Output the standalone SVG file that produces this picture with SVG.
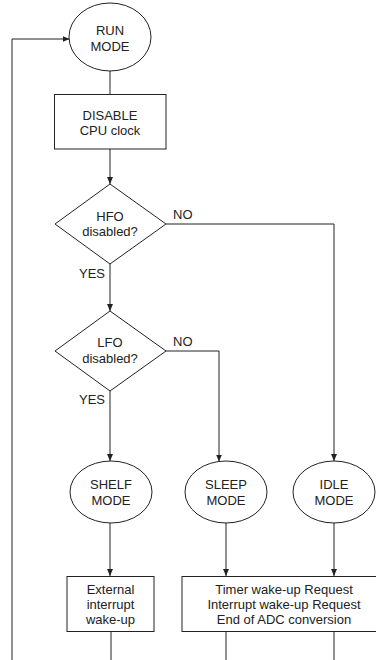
<svg xmlns="http://www.w3.org/2000/svg" width="376" height="660" viewBox="0 0 376 660">
<style>
.s{fill:#fff;stroke:#222;stroke-width:1}
.c{fill:none;stroke:#222;stroke-width:1}
text{font-family:"Liberation Sans",Arial,sans-serif;font-size:13px;fill:#222}
.m{text-anchor:middle}
</style>
<defs>
<marker id="ah" markerUnits="userSpaceOnUse" markerWidth="8" markerHeight="8" refX="7" refY="4" orient="auto">
<path d="M0,1 L7,4 L0,7 z" fill="#222"/>
</marker>
</defs>
<rect width="376" height="660" fill="#fff"/>
<g id="connectors">
<path class="c" d="M12,660 V39 H69.5" marker-end="url(#ah)"/>
<path class="c" d="M110,71 V94"/>
<path class="c" d="M110,149 V184" marker-end="url(#ah)"/>
<path class="c" d="M166,224 H334 V461" marker-end="url(#ah)"/>
<path class="c" d="M110,264 V311" marker-end="url(#ah)"/>
<path class="c" d="M166,351 H219 V461.5" marker-end="url(#ah)"/>
<path class="c" d="M110,391 V461" marker-end="url(#ah)"/>
<path class="c" d="M110,523 V576" marker-end="url(#ah)"/>
<path class="c" d="M226,523 V576" marker-end="url(#ah)"/>
<path class="c" d="M334,523 V576" marker-end="url(#ah)"/>
<path class="c" d="M111,632 V660"/>
<path class="c" d="M226,632 V660"/>
<path class="c" d="M334,632 V660"/>
<text x="173" y="219">NO</text>
<text x="79" y="278">YES</text>
<text x="173" y="346">NO</text>
<text x="79" y="404">YES</text>
</g>
<g id="run">
<ellipse class="s" cx="110" cy="37" rx="41" ry="34"/>
<text class="m" x="110" y="35">RUN</text>
<text class="m" x="110" y="51">MODE</text>
</g>
<g id="disable">
<rect class="s" x="54.5" y="94.5" width="111.5" height="54.5"/>
<text class="m" x="110" y="120">DISABLE</text>
<text class="m" x="110" y="135">CPU clock</text>
</g>
<g id="hfo">
<polygon class="s" points="110,184 166,224 110,264 55,224"/>
<text class="m" x="110" y="221">HFO</text>
<text class="m" x="110" y="236">disabled?</text>
</g>
<g id="lfo">
<polygon class="s" points="110,311 166,351 110,391 55,351"/>
<text class="m" x="110" y="347">LFO</text>
<text class="m" x="110" y="363">disabled?</text>
</g>
<g id="shelf">
<ellipse class="s" cx="111" cy="492" rx="41" ry="31"/>
<text class="m" x="111" y="489">SHELF</text>
<text class="m" x="111" y="505">MODE</text>
</g>
<g id="sleep">
<ellipse class="s" cx="226" cy="492" rx="41" ry="31"/>
<text class="m" x="226" y="489">SLEEP</text>
<text class="m" x="226" y="505">MODE</text>
</g>
<g id="idle">
<ellipse class="s" cx="334" cy="492" rx="41" ry="31"/>
<text class="m" x="334" y="489">IDLE</text>
<text class="m" x="334" y="505">MODE</text>
</g>
<g id="external">
<rect class="s" x="67" y="576.5" width="87" height="55"/>
<text class="m" x="110.5" y="594">External</text>
<text class="m" x="110.5" y="609">interrupt</text>
<text class="m" x="110.5" y="624">wake-up</text>
</g>
<g id="wakeup">
<rect class="s" x="182" y="576.5" width="200" height="55"/>
<text class="m" x="284" y="594">Timer wake-up Request</text>
<text class="m" x="284" y="609">Interrupt wake-up Request</text>
<text class="m" x="284" y="624">End of ADC conversion</text>
</g>
</svg>
